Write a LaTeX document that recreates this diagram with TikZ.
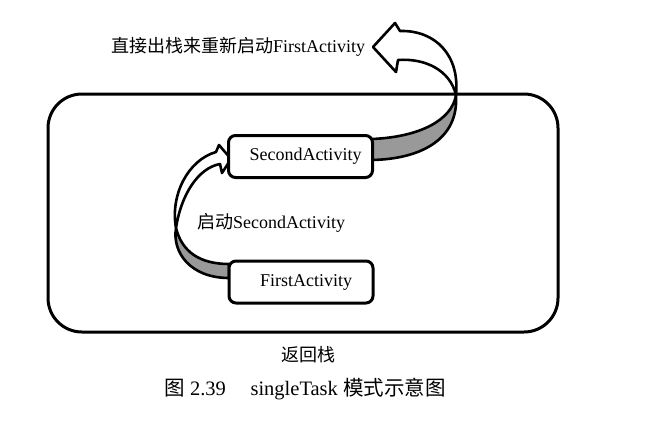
\documentclass[tikz,border=0pt]{standalone}
\usepackage{fontspec}
\setmainfont{Liberation Serif}
\newfontfamily\cjk{Noto Sans CJK SC}
\begin{document}
\begin{tikzpicture}[x=1pt,y=-1pt,
  actbox/.style={draw=black,line width=3pt,rounded corners=7pt,fill=white,
    minimum width=144pt,minimum height=42pt,inner sep=0pt,
    font=\fontsize{18}{20}\selectfont},
  plain/.style={inner sep=0pt,font=\fontsize{18}{20}\selectfont},
  ribbonw/.style={draw=black,line width=2.6pt,fill=white,line join=round},
  ribbong/.style={draw=black,line width=2.6pt,fill=black!40,line join=round}]
\useasboundingbox (0,0) rectangle (652,431);
% back stack
\draw[line width=3pt,rounded corners=34pt] (48,94) rectangle (558,332);
% left ribbon arrow (FirstActivity -> SecondActivity)
\coordinate (ltw) at (176,228);
\coordinate (rtw) at (456,95);
\draw[ribbong] (229,264) .. controls (200,264) and (182,252) .. (ltw)
   .. controls (172,252) and (190,278) .. (229,278) -- cycle;
\draw[ribbonw] (ltw) .. controls (170,195) and (188,160) .. (216,152) -- (219,145) -- (231,159)
   -- (222,173) -- (220,164) .. controls (198,168) and (181,195) .. (ltw) -- cycle;
% right ribbon arrow (SecondActivity -> top)
\draw[ribbong] (372,139) .. controls (420,137) and (452,120) .. (rtw)
   .. controls (459,140) and (420,159) .. (372,160) -- cycle;
\draw[ribbonw] (rtw) .. controls (460,55) and (435,30) .. (400,31) -- (395,23) -- (373,47)
   -- (396,72) -- (398,60) .. controls (425,58) and (450,70) .. (rtw) -- cycle;
% activity boxes
\node[actbox] (second) at (300.5,156.5) {\hspace{10pt}SecondActivity};
\node[actbox] (first) at (301,282) {\hspace{10pt}FirstActivity};
% labels
\node[plain,anchor=west] (toplbl) at (111,47) {{\cjk 直接出栈来重新启动}FirstActivity};
\node[plain] (startlbl) at (271,223) {{\cjk 启动}SecondActivity};
\node[plain] (stacklbl) at (308,355) {\cjk 返回栈};
\node[inner sep=0pt,font=\fontsize{20.5}{22}\selectfont] (caption) at (305,389)
  {{\cjk 图} 2.39\hspace{1.2em}singleTask {\cjk 模式示意图}};
\end{tikzpicture}
\end{document}
